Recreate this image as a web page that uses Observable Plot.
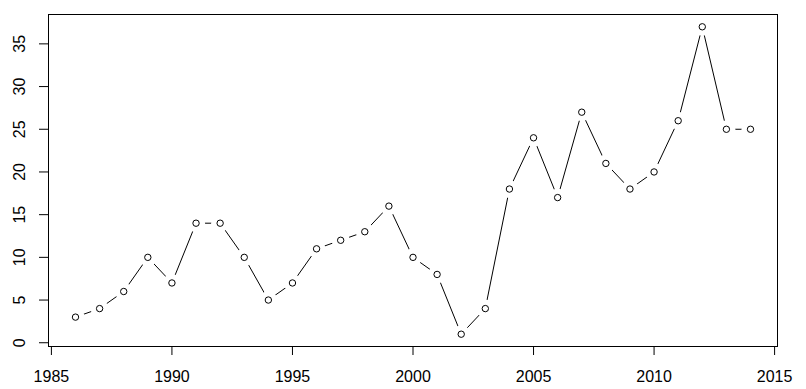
<!DOCTYPE html>
<html>
<head>
<meta charset="utf-8">
<script src="https://cdn.jsdelivr.net/npm/d3@7"></script>
<script src="https://cdn.jsdelivr.net/npm/@observablehq/plot@0.6"></script>
<style>
  html, body { margin: 0; padding: 0; background: #fff; }
  #chart svg { display: block; }
</style>
</head>
<body>
<div id="chart"></div>
<script>
const years = [1986,1987,1988,1989,1990,1991,1992,1993,1994,1995,1996,1997,1998,1999,2000,2001,2002,2003,2004,2005,2006,2007,2008,2009,2010,2011,2012,2013,2014];
const counts = [3,4,6,10,7,14,14,10,5,7,11,12,13,16,10,8,1,4,18,24,17,27,21,18,20,26,37,25,25];
const xTicks = [1985,1990,1995,2000,2005,2010,2015];
const yTicks = [0,5,10,15,20,25,30,35];

const data = years.map((y, i) => ({year: y, value: counts[i]}));
const font = "'Liberation Sans', Arial, sans-serif";

const chart = Plot.plot({
  width: 806,
  height: 389,
  marginLeft: 48,
  marginRight: 29,
  marginTop: 14,
  marginBottom: 43,
  style: {fontFamily: font, fontSize: "16px", background: "#fff", color: "#000"},
  x: {domain: [1984.88, 2015.12], axis: null},
  y: {domain: [-0.44, 38.44], axis: null},
  marks: [
    Plot.line(data, {x: "year", y: "value", stroke: "#000", strokeWidth: 1}),
    Plot.dot(data, {x: "year", y: "value", r: 9, fill: "#fff", stroke: null}),
    Plot.dot(data, {x: "year", y: "value", r: 3.2, fill: "none", stroke: "#000", strokeWidth: 1}),
    Plot.frame({stroke: "#000", strokeWidth: 1}),
    Plot.axisX({ticks: xTicks, tickSize: 9, tickFormat: () => "", label: null, stroke: "#000"}),
    Plot.axisY({ticks: yTicks, tickSize: 9, tickFormat: () => "", label: null, stroke: "#000"}),
    Plot.text(xTicks, {x: d => d, text: d => String(d), frameAnchor: "bottom", dy: 30, lineAnchor: "middle", textAnchor: "middle", fill: "#000", fontSize: 16}),
    Plot.text(yTicks, {y: d => d, text: d => String(d), frameAnchor: "left", dx: -29, rotate: -90, lineAnchor: "middle", textAnchor: "middle", fill: "#000", fontSize: 16})
  ]
});
document.getElementById("chart").appendChild(chart);
</script>
</body>
</html>
